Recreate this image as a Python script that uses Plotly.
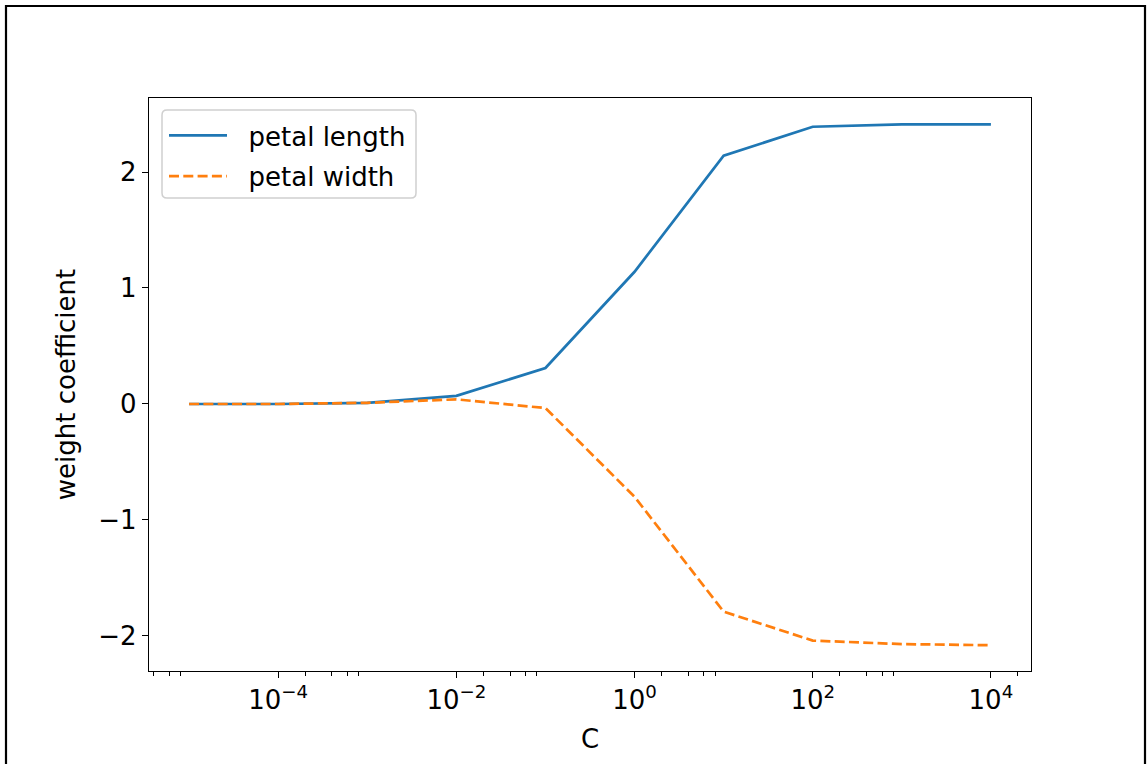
import plotly.graph_objects as go

# ---- data ----
C_values = [1e-5, 1e-4, 1e-3, 1e-2, 1e-1, 1e0, 1e1, 1e2, 1e3, 1e4]
petal_length = [0.0, 0.0, 0.01, 0.07, 0.31, 1.14, 2.14, 2.39, 2.41, 2.41]
petal_width = [0.0, 0.0, 0.01, 0.04, -0.035, -0.80, -1.79, -2.04, -2.07, -2.08]
series_names = ["petal length", "petal width"]

x_tick_vals = [1e-4, 1e-2, 1e0, 1e2, 1e4]
x_tick_text = ["10<sup>−4</sup>", "10<sup>−2</sup>", "10<sup>0</sup>", "10<sup>2</sup>", "10<sup>4</sup>"]
x_minor_vals = [m * 10.0 ** k for k in (-6, -4, -2, 0, 2, 4) for m in (2, 4, 6, 8)]
y_tick_vals = [-2, -1, 0, 1, 2]
y_tick_text = ["−2", "−1", "0", "1", "2"]

FONT = "DejaVu Sans"
FS = 26
W, H = 1147, 764
L, R, T, B = 149, 1031, 98, 671
pw, ph = R - L, B - T


def px_x(x):
    return (x - L) / pw


def px_y(y):
    return (B - y) / ph


fig = go.Figure()
fig.add_trace(go.Scatter(x=C_values, y=petal_length, mode="lines",
                         name="\u00a0\u00a0" + series_names[0], legendgroup="a",
                         line=dict(color="#1f77b4", width=2.7)))
fig.add_trace(go.Scatter(x=C_values, y=petal_width, mode="lines",
                         name="\u00a0\u00a0" + series_names[1], legendgroup="b",
                         line=dict(color="#ff7f0e", width=2.7, dash="10px,4.3px")))

axis_common = dict(showgrid=False, zeroline=False, showline=True, mirror=True,
                   linecolor="black", linewidth=1.4, ticks="outside", ticklen=6,
                   tickwidth=1.4, tickcolor="black",
                   tickfont=dict(family=FONT, size=FS, color="black"))

fig.update_xaxes(type="log", range=[-5.45, 4.45], tickmode="array",
                 tickvals=x_tick_vals, ticktext=x_tick_text,
                 minor=dict(tickmode="array", tickvals=x_minor_vals, ticks="outside",
                            ticklen=3.5, tickwidth=1.1, tickcolor="black"),
                 title=dict(text="C", font=dict(family=FONT, size=FS, color="black"), standoff=15),
                 **axis_common)
fig.update_yaxes(range=[-2.302, 2.638], tickmode="array", tickvals=y_tick_vals,
                 ticktext=y_tick_text,
                 title=dict(text="weight coefficient", font=dict(family=FONT, size=FS, color="black"), standoff=15),
                 **axis_common)

# outer figure frame
fig.add_shape(type="rect", xref="paper", yref="paper",
              x0=px_x(6), x1=px_x(1145), y0=px_y(820), y1=px_y(6),
              line=dict(color="black", width=2.2), fillcolor="rgba(0,0,0,0)", layer="above")

# legend frame (rounded)
lx0, lx1, ly0, ly1, rr = px_x(162), px_x(416), px_y(198), px_y(110), 5
rx, ry = rr / pw, rr / ph
path = (f"M{lx0+rx},{ly1} L{lx1-rx},{ly1} Q{lx1},{ly1} {lx1},{ly1-ry} "
        f"L{lx1},{ly0+ry} Q{lx1},{ly0} {lx1-rx},{ly0} L{lx0+rx},{ly0} "
        f"Q{lx0},{ly0} {lx0},{ly0+ry} L{lx0},{ly1-ry} Q{lx0},{ly1} {lx0+rx},{ly1} Z")
fig.add_shape(type="path", xref="paper", yref="paper", path=path,
              line=dict(color="#d0d0d0", width=1.5), fillcolor="rgba(255,255,255,0.8)", layer="below")

fig.update_layout(
    width=W, height=H,
    margin=dict(l=L, r=W - R, t=T, b=H - B, autoexpand=False),
    paper_bgcolor="white", plot_bgcolor="white",
    font=dict(family=FONT, size=FS, color="black"),
    showlegend=True,
    legend=dict(x=px_x(164), y=px_y(112), xanchor="left", yanchor="top",
                bgcolor="rgba(0,0,0,0)", borderwidth=0,
                font=dict(family=FONT, size=FS, color="black"),
                itemwidth=58, tracegroupgap=4),
)

fig.write_html("out.html", config={"displayModeBar": False},
               post_script="document.body.style.margin='0';document.body.style.overflow='hidden';")
